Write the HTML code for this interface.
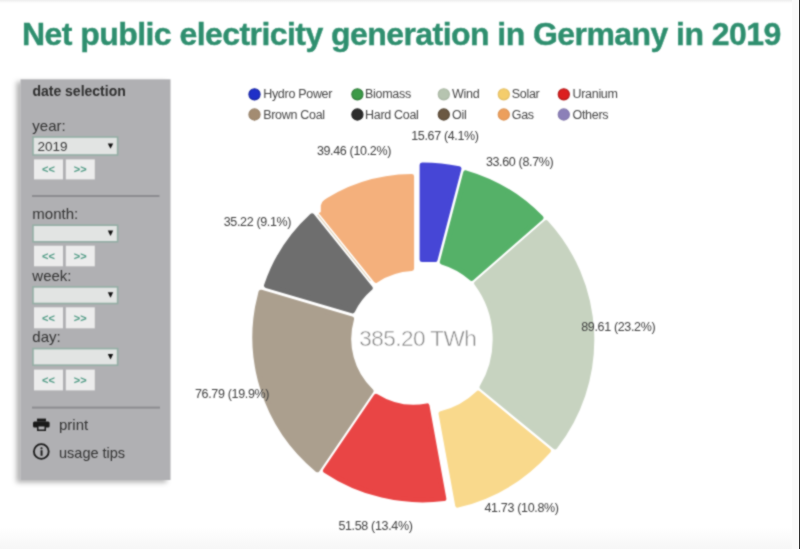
<!DOCTYPE html>
<html><head><meta charset="utf-8"><title>Net public electricity generation in Germany in 2019</title>
<style>
html,body{margin:0;padding:0;background:#fff;width:800px;height:549px;overflow:hidden}
svg{display:block}
text{font-family:"Liberation Sans",Arial,sans-serif}
</style></head>
<body>
<svg width="800" height="549" viewBox="0 0 800 549">
<defs>
<filter id="soft" x="0" y="0" width="100%" height="100%" color-interpolation-filters="sRGB"><feConvolveMatrix order="3" kernelMatrix="1 2 1 2 8 2 1 2 1" divisor="20" edgeMode="duplicate"/></filter>
<filter id="sh" x="-20%" y="-10%" width="140%" height="120%">
<feDropShadow dx="-4" dy="2.5" stdDeviation="2.6" flood-color="#000" flood-opacity="0.3"/>
</filter>
<linearGradient id="topg" x1="0" y1="0" x2="0" y2="1"><stop offset="0" stop-color="#ececec"/><stop offset="1" stop-color="#ffffff"/></linearGradient>
<linearGradient id="botg" x1="0" y1="0" x2="0" y2="1"><stop offset="0" stop-color="#ffffff"/><stop offset="1" stop-color="#f6f6f6"/></linearGradient>
</defs>
<g filter="url(#soft)">
<rect x="0" y="0" width="800" height="549" fill="#fff"/>
<rect x="0" y="0" width="800" height="3" fill="url(#topg)"/>
<rect x="0" y="527" width="800" height="22" fill="url(#botg)"/>

<!-- title -->
<text x="22" y="44.8" font-size="32" font-weight="700" fill="#2f8f6f" stroke="#2f8f6f" stroke-width="0.4" letter-spacing="-0.56">Net public electricity generation in Germany in 2019</text>

<!-- sidebar -->
<rect x="20.5" y="79.3" width="150" height="400.7" fill="#b0b0b3" filter="url(#sh)"/>
<text x="32.4" y="96.2" font-size="14" font-weight="700" fill="#2e2e2e">date selection</text>

<g id="year">
<text x="32.3" y="131.3" font-size="15" fill="#333">year:</text>
<rect x="33" y="137" width="84.6" height="18" fill="#e2e4e3" stroke="#94aea5" stroke-width="1.6"/>
<text x="37.6" y="151" font-size="13.5" fill="#3a3a3a">2019</text>
<path d="M107.8,143.4 L113.2,143.4 L110.5,148.8 Z" fill="#111"/>
<rect x="34" y="159.4" width="29" height="20" fill="#ececec"/>
<rect x="65.8" y="159.4" width="29" height="20" fill="#ececec"/>
<text x="48.5" y="173.2" font-size="11" font-weight="700" fill="#4f9a84" text-anchor="middle">&lt;&lt;</text>
<text x="80.3" y="173.2" font-size="11" font-weight="700" fill="#4f9a84" text-anchor="middle">&gt;&gt;</text>
</g>
<rect x="32" y="195" width="127.5" height="2" fill="#8c8c90"/>

<g id="month">
<text x="32.3" y="218.5" font-size="15" fill="#333">month:</text>
<rect x="33" y="225.2" width="84.6" height="16.6" fill="#e2e4e3" stroke="#94aea5" stroke-width="1.6"/>
<path d="M107.8,230.6 L113.2,230.6 L110.5,236 Z" fill="#111"/>
<rect x="34" y="245.7" width="29" height="20.6" fill="#ececec"/>
<rect x="65.8" y="245.7" width="29" height="20.6" fill="#ececec"/>
<text x="48.5" y="259.8" font-size="11" font-weight="700" fill="#4f9a84" text-anchor="middle">&lt;&lt;</text>
<text x="80.3" y="259.8" font-size="11" font-weight="700" fill="#4f9a84" text-anchor="middle">&gt;&gt;</text>
</g>

<g id="week">
<text x="32.3" y="281" font-size="15" fill="#333">week:</text>
<rect x="33" y="286.9" width="84.6" height="16.6" fill="#e2e4e3" stroke="#94aea5" stroke-width="1.6"/>
<path d="M107.8,292.3 L113.2,292.3 L110.5,297.7 Z" fill="#111"/>
<rect x="34" y="307.3" width="29" height="21" fill="#ececec"/>
<rect x="65.8" y="307.3" width="29" height="21" fill="#ececec"/>
<text x="48.5" y="321.6" font-size="11" font-weight="700" fill="#4f9a84" text-anchor="middle">&lt;&lt;</text>
<text x="80.3" y="321.6" font-size="11" font-weight="700" fill="#4f9a84" text-anchor="middle">&gt;&gt;</text>
</g>

<g id="day">
<text x="32.3" y="342.3" font-size="15" fill="#333">day:</text>
<rect x="33" y="348.6" width="84.6" height="16.6" fill="#e2e4e3" stroke="#94aea5" stroke-width="1.6"/>
<path d="M107.8,354 L113.2,354 L110.5,359.4 Z" fill="#111"/>
<rect x="34" y="369.6" width="29" height="20.8" fill="#ececec"/>
<rect x="65.8" y="369.6" width="29" height="20.8" fill="#ececec"/>
<text x="48.5" y="383.8" font-size="11" font-weight="700" fill="#4f9a84" text-anchor="middle">&lt;&lt;</text>
<text x="80.3" y="383.8" font-size="11" font-weight="700" fill="#4f9a84" text-anchor="middle">&gt;&gt;</text>
</g>
<rect x="32" y="406.6" width="128" height="2" fill="#8c8c90"/>

<!-- print icon -->
<g fill="#1a1a1a">
<rect x="37" y="418.6" width="9" height="3"/>
<rect x="33" y="421.5" width="16.6" height="6" rx="1.5"/>
<rect x="37" y="425" width="9" height="6"/>
</g>
<rect x="38.5" y="426.5" width="6" height="3" fill="#b0b0b3"/>
<text x="59" y="429.5" font-size="15" fill="#333">print</text>
<!-- info icon -->
<circle cx="41.3" cy="451.5" r="7.4" fill="none" stroke="#1a1a1a" stroke-width="1.8"/>
<circle cx="41.5" cy="448.3" r="1.1" fill="#1a1a1a"/>
<rect x="40.6" y="450.2" width="1.9" height="5.6" fill="#1a1a1a"/>
<text x="59" y="457.5" font-size="14.5" fill="#333">usage tips</text>

<!-- legend -->
<g font-size="12.5" fill="#464646" letter-spacing="-0.3">
<circle cx="254.5" cy="94.3" r="5.6" fill="#1f2fc8" stroke="#1825a0" stroke-width="1.1"/><text x="263.2" y="98.3">Hydro Power</text>
<circle cx="357.4" cy="94.3" r="5.6" fill="#3c9a48" stroke="#307b39" stroke-width="1.1"/><text x="365" y="98.3">Biomass</text>
<circle cx="443.8" cy="94.3" r="5.6" fill="#b6c4b0" stroke="#a9b6a3" stroke-width="1.1"/><text x="452" y="98.3">Wind</text>
<circle cx="503.8" cy="94.3" r="5.6" fill="#f4cd6c" stroke="#e2be64" stroke-width="1.1"/><text x="511.8" y="98.3">Solar</text>
<circle cx="563.8" cy="94.3" r="5.6" fill="#dc1f1f" stroke="#b01818" stroke-width="1.1"/><text x="572.5" y="98.3">Uranium</text>
<circle cx="254.5" cy="114.5" r="5.6" fill="#a38c72" stroke="#97826a" stroke-width="1.1"/><text x="263.2" y="118.5">Brown Coal</text>
<circle cx="357.4" cy="114.5" r="5.6" fill="#2c2c2c" stroke="#232323" stroke-width="1.1"/><text x="365" y="118.5">Hard Coal</text>
<circle cx="443.8" cy="114.5" r="5.6" fill="#6b5842" stroke="#554634" stroke-width="1.1"/><text x="452" y="118.5">Oil</text>
<circle cx="503.8" cy="114.5" r="5.6" fill="#ec9f5c" stroke="#db9355" stroke-width="1.1"/><text x="511.8" y="118.5">Gas</text>
<circle cx="563.8" cy="114.5" r="5.6" fill="#8c80b8" stroke="#8277ab" stroke-width="1.1"/><text x="572.5" y="118.5">Others</text>
</g>

<!-- donut -->
<g id="donut" stroke-width="5" stroke-linejoin="round">
<path d="M422.10,164.97 A172.58,172.58 0 0 1 458.92,168.75 L435.13,259.61 A202.50,202.50 0 0 0 422.10,259.60 Z" fill="#4646d6" stroke="#4646d6"/>
<path d="M465.61,172.78 A170.95,170.95 0 0 1 540.92,217.85 L471.59,278.40 A79.06,79.06 0 0 0 442.23,262.10 Z" fill="#55b168" stroke="#55b168"/>
<path d="M546.08,222.64 A173.50,173.50 0 0 1 554.95,446.90 L482.07,387.14 A93.89,93.89 0 0 0 476.63,283.29 Z" fill="#c7d3c0" stroke="#c7d3c0"/>
<path d="M548.38,450.82 A174.20,174.20 0 0 1 457.63,505.11 L441.02,413.65 A81.00,81.00 0 0 0 478.13,393.22 Z" fill="#f9d98c" stroke="#f9d98c"/>
<path d="M443.85,498.61 A175.32,175.32 0 0 1 325.49,470.55 L376.18,396.26 A70.96,70.96 0 0 0 427.01,405.87 Z" fill="#e94545" stroke="#e94545"/>
<path d="M317.33,469.73 A171.46,171.46 0 0 1 260.97,292.26 L351.56,318.98 A72.11,72.11 0 0 0 371.00,391.08 Z" fill="#ab9f8e" stroke="#ab9f8e"/>
<path d="M266.49,285.54 A166.52,166.52 0 0 1 312.02,215.78 L370.17,288.18 A69.65,69.65 0 0 0 352.54,310.93 Z" fill="#6e6e6e" stroke="#6e6e6e"/>
<path d="M317.36,207.43 A163.73,163.73 0 0 1 411.60,176.40 L411.60,268.58 A73.40,73.40 0 0 0 375.89,280.28 Z" fill="#f4b07c" stroke="#f4b07c"/>
<path d="M303,199 L331,193 L331,195.6 Q322.5,198.5 320.8,205.5 L320.8,212 L316,214.5 L309,207 Z" fill="#fff"/>
<line x1="317.6" y1="214.9" x2="370.5" y2="281" stroke="#e2d5bd" stroke-width="1.2"/>
</g>
<text x="417.75" y="345.9" font-size="22.5" fill="#888" stroke="#fff" stroke-width="0.5" text-anchor="middle" letter-spacing="-0.5">385.20 TWh</text>

<!-- labels -->
<g font-size="12.5" fill="#404040" letter-spacing="-0.34">
<text x="411.2" y="139.6">15.67 (4.1%)</text>
<text x="316.9" y="154.8">39.46 (10.2%)</text>
<text x="485.9" y="165.5">33.60 (8.7%)</text>
<text x="223.7" y="226.2">35.22 (9.1%)</text>
<text x="581.2" y="330.6">89.61 (23.2%)</text>
<text x="195" y="397.5">76.79 (19.9%)</text>
<text x="484.5" y="511.5">41.73 (10.8%)</text>
<text x="338.4" y="529.6">51.58 (13.4%)</text>
</g>
</g>
<rect x="792" y="0" width="7" height="549" fill="#fafafa"/>
<rect x="799" y="0" width="1" height="549" fill="#303030"/>
</svg>
</body></html>
